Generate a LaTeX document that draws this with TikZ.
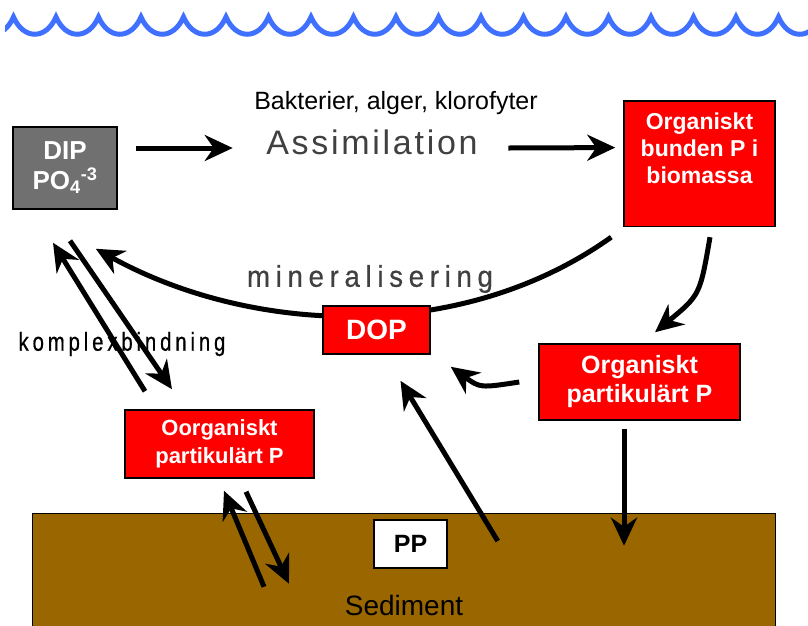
\documentclass[tikz,border=0pt]{standalone}
\usepackage{fontspec}
\setmainfont{Liberation Sans}
\usetikzlibrary{arrows.meta,positioning}

\definecolor{waveblue}{RGB}{64,112,255}
\definecolor{boxred}{RGB}{255,0,0}
\definecolor{dipgray}{RGB}{112,112,112}
\definecolor{mud}{RGB}{153,102,0}
\definecolor{labelgray}{RGB}{64,64,64}

\begin{document}
\begin{tikzpicture}[
    x = 1pt, y = -1pt, % pixel grid, y runs downwards
    > = {Stealth[length=28pt,width=26pt,inset=9pt]}, % big arrow heads
    semithick % line style
    ]

    \tikzset{
    redbox/.style = {draw = black, line width = 1.5pt, fill = boxred,
        text = white, font = \bfseries, align = center, inner sep = 0pt},
    flow/.style = {->, line width = 5pt},
    wavy/.style = {draw = waveblue, line width = 5pt}
    }

    \useasboundingbox (0,0) rectangle (808,625);

    % water surface
    \begin{scope}
    \clip (5,0) rectangle (808,60);
    \draw[wavy] (-29,17) \foreach \i in {1,...,20} { .. controls +(10,23) and +(-10,23) .. ++(42.5,0) };
    \end{scope}

    % sediment
    \fill[mud, draw = black, line width = 1pt] (32,513) rectangle (775,630);
    \node[font = \fontsize{28}{30}\selectfont] (sedtext) at (404,605) {Sediment};
    \node[draw = black, line width = 1.5pt, fill = white, minimum width = 73pt, minimum height = 48pt,
        font = \fontsize{25}{28}\selectfont\bfseries] (pp) at (410.5,544) {PP};

    \node[draw = black, line width = 1.5pt, fill = dipgray, text = white, align = center,
        minimum width = 104pt, minimum height = 82pt, inner sep = 0pt,
        font = \fontsize{26}{30}\selectfont\bfseries] (dip) at (65,168) {DIP\\PO\textsubscript{4}\textsuperscript{-3}};
    \node[font = \fontsize{25}{28}\selectfont] (bakt) at (396,103) {Bakterier, alger, klorofyter};
    \node[text = labelgray, font = \fontsize{34}{38}\selectfont\addfontfeature{LetterSpace=8}] (assim) at (372,142) {Assimilation};
    \node[redbox, anchor = north, minimum width = 151pt, inner ysep = 12pt, text depth = 31pt,
        font = \fontsize{23}{27}\selectfont\bfseries] (bio) at (699.5,100) {Organiskt\\bunden P i\\biomassa};
    \node[redbox, minimum width = 201pt, minimum height = 76pt,
        font = \fontsize{25}{29}\selectfont\bfseries] (opart) at (639.5,382) {Organiskt\\partikulärt P};
    \node[redbox, minimum width = 189pt, minimum height = 68pt,
        font = \fontsize{22}{28}\selectfont\bfseries] (ipart) at (219.5,444) {Oorganiskt\\partikulärt P};

    \node[text = labelgray, font = \fontsize{30}{32}\selectfont\addfontfeature{FakeBold=0.6,FakeStretch=0.92,LetterSpace=19}] (miner) at (370,279) {mineralisering};
    \node[font = \fontsize{26}{28}\selectfont\addfontfeature{FakeBold=0.6,FakeStretch=0.78,LetterSpace=15}] (kompl) at (122,344) {komplexbindning};

    % mineralisering, runs behind DOP
    \draw[flow] ([xshift=-12pt,yshift=-10pt]bio.south west) .. controls (460,345) and (250,334) .. ([xshift=-22pt,yshift=-39pt]dip.south east);
    \node[redbox, minimum width = 107pt, minimum height = 48pt,
        font = \fontsize{28}{32}\selectfont\bfseries] (dop) at (376.5,330) {DOP};

    \draw[flow] ([xshift=18pt,yshift=20pt]dip.east) -- ([xshift=-30pt,yshift=-6pt]assim.west);
    \draw[flow] ([xshift=27pt,yshift=-6pt]assim.east) -- ([xshift=-8pt,yshift=16pt]bio.west);
    \draw[flow] ([xshift=10.5pt,yshift=-10pt]bio.south) .. controls (700,295) .. ([xshift=15.5pt,yshift=11pt]opart.north);
    \draw[flow] ([xshift=-19pt]opart.west) .. controls (480,388) .. ([xshift=20pt,yshift=-12pt]dop.south east);
    \draw[flow] ([xshift=-15.5pt,yshift=-8pt]opart.south) -- ([xshift=-15.5pt,yshift=-125pt]opart.south);
    \draw[flow] ([xshift=50pt,yshift=3pt]pp.east) -- ([xshift=24pt,yshift=-26pt]dop.south);

    % DIP <-> Oorganiskt
    \draw[flow] ([xshift=-74.5pt,yshift=18pt]ipart.north) -- ([xshift=-12pt,yshift=-33pt]dip.south);
    \draw[flow] ([xshift=5pt,yshift=-31pt]dip.south) -- ([xshift=-47.5pt,yshift=20pt]ipart.north);

    % Oorganiskt <-> sediment
    \draw[flow] ([xshift=44.5pt,yshift=-108pt]ipart.south) -- ([xshift=4.5pt,yshift=-12pt]ipart.south);
    \draw[flow] ([xshift=26.5pt,yshift=-13pt]ipart.south) -- ([xshift=69.5pt,yshift=-105pt]ipart.south);
\end{tikzpicture}
\end{document}
